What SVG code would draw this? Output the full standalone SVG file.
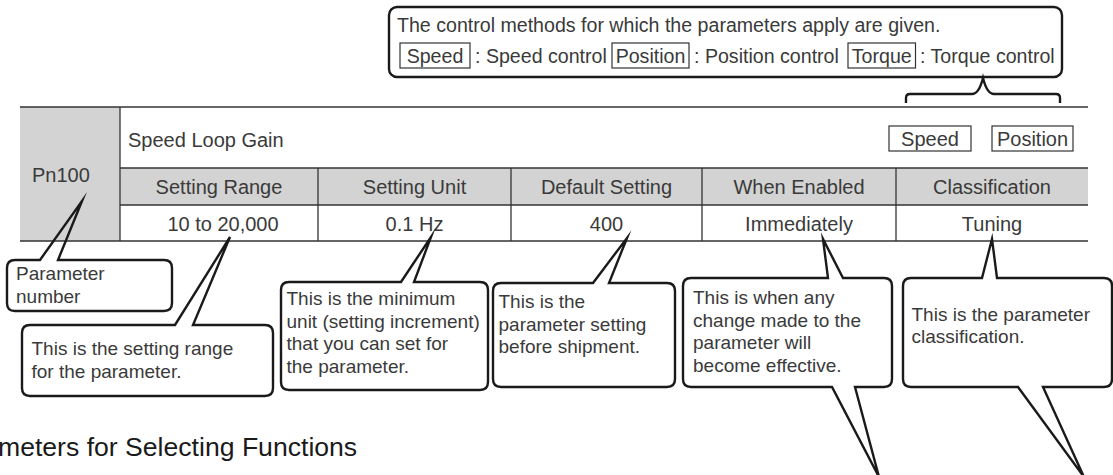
<svg xmlns="http://www.w3.org/2000/svg" width="1113" height="475" viewBox="0 0 1113 475">
<style>
  .t { font-family: "Liberation Sans", Arial, sans-serif; fill: #3a3a3a; }
  .tb { font-size: 20px; }
  .tc { font-size: 19px; }
  .mid { text-anchor: middle; }
  .grid { stroke: #333; stroke-width: 1.3; fill: none; }
  .call { stroke: #1a1a1a; stroke-width: 2.4; fill: none; stroke-linejoin: miter; stroke-miterlimit: 10; }
  .tag { stroke: #333; stroke-width: 1.2; fill: none; }
</style>
<rect x="0" y="0" width="1113" height="475" fill="#ffffff"/>

<g id="table">
  <rect x="20" y="107" width="100" height="134" fill="#d3d3d3"/>
  <rect x="120" y="168" width="968" height="37" fill="#d3d3d3"/>
  <line class="grid" x1="20" y1="107" x2="1088" y2="107"/>
  <line class="grid" x1="120" y1="168" x2="1088" y2="168"/>
  <line class="grid" x1="120" y1="205" x2="1088" y2="205"/>
  <line class="grid" x1="20" y1="241" x2="1088" y2="241"/>
  <line class="grid" x1="120" y1="107" x2="120" y2="241"/>
  <line class="grid" x1="318" y1="168" x2="318" y2="241"/>
  <line class="grid" x1="511" y1="168" x2="511" y2="241"/>
  <line class="grid" x1="702" y1="168" x2="702" y2="241"/>
  <line class="grid" x1="896" y1="168" x2="896" y2="241"/>
  <text class="t tb" x="32" y="182">Pn100</text>
  <text class="t tb" x="128" y="147">Speed Loop Gain</text>
  <rect class="tag" x="889" y="126" width="82" height="25"/>
  <text class="t tb mid" x="930" y="146">Speed</text>
  <rect class="tag" x="992" y="126" width="81" height="25"/>
  <text class="t tb mid" x="1032.5" y="146">Position</text>
  <text class="t tb mid" x="219" y="194">Setting Range</text>
  <text class="t tb mid" x="414.5" y="194">Setting Unit</text>
  <text class="t tb mid" x="606.5" y="194">Default Setting</text>
  <text class="t tb mid" x="799" y="194">When Enabled</text>
  <text class="t tb mid" x="992" y="194">Classification</text>
  <text class="t tb mid" x="223" y="230.5">10 to 20,000</text>
  <text class="t tb mid" x="414.5" y="230.5">0.1 Hz</text>
  <text class="t tb mid" x="606.5" y="230.5">400</text>
  <text class="t tb mid" x="799" y="230.5">Immediately</text>
  <text class="t tb mid" x="992" y="230.5">Tuning</text>
</g>

<g id="control-callout">
  <rect class="call" x="389" y="7" width="673" height="70" rx="8" ry="8"/>
  <text class="t" style="font-size:19.6px" x="397" y="32">The control methods for which the parameters apply are given.</text>
  <rect class="tag" x="400" y="43" width="70" height="25"/>
  <text class="t mid" style="font-size:19.6px" x="435" y="63">Speed</text>
  <text class="t" style="font-size:19.6px" x="475" y="63">: Speed control</text>
  <rect class="tag" x="612" y="43" width="77" height="25"/>
  <text class="t mid" style="font-size:19.6px" x="650.5" y="63">Position</text>
  <text class="t" style="font-size:19.6px" x="694" y="63">: Position control</text>
  <rect class="tag" x="848" y="43" width="67.5" height="25"/>
  <text class="t mid" style="font-size:19.6px" x="881.75" y="63">Torque</text>
  <text class="t" style="font-size:19.6px" x="920" y="63">: Torque control</text>
</g>

<g id="connectors">
  <path class="call" d="M906,103 L906,98 Q906,94 910,94 L972,94 Q979,94 983,78 Q987,94 994,94 L1056,94 Q1060,94 1060,98 L1060,103"/>
</g>

<g id="callout-parameter-number">
  <path class="call" d="M15,260 L40,260 L82,201 L58,260 L164,260 Q172,260 172,268 L172,303 Q172,311 164,311 L15,311 Q7,311 7,303 L7,268 Q7,260 15,260 Z"/>
  <text class="t tc" x="16" y="280">Parameter</text>
  <text class="t tc" x="16" y="302.5">number</text>
</g>

<g id="callout-setting-range">
  <path class="call" d="M30,325 L175,325 L230,237 L193,325 L265,325 Q273,325 273,333 L273,388 Q273,396 265,396 L30,396 Q22,396 22,388 L22,333 Q22,325 30,325 Z"/>
  <text class="t tc" x="31.5" y="355">This is the setting range</text>
  <text class="t tc" x="31.5" y="378">for the parameter.</text>
</g>

<g id="callout-setting-unit">
  <path class="call" d="M289,282 L401,282 L431,237 L414,282 L480,282 Q488,282 488,290 L488,382 Q488,390 480,390 L289,390 Q281,390 281,382 L281,290 Q281,282 289,282 Z"/>
  <text class="t tc" x="286.5" y="305">This is the minimum</text>
  <text class="t tc" x="286.5" y="327.5">unit (setting increment)</text>
  <text class="t tc" x="286.5" y="350">that you can set for</text>
  <text class="t tc" x="286.5" y="372.5">the parameter.</text>
</g>

<g id="callout-default-setting">
  <path class="call" d="M501,283 L593,283 L627,238 L609,283 L667,283 Q675,283 675,291 L675,379 Q675,387 667,387 L501,387 Q493,387 493,379 L493,291 Q493,283 501,283 Z"/>
  <text class="t tc" x="498.5" y="308">This is the</text>
  <text class="t tc" x="498.5" y="330.5">parameter setting</text>
  <text class="t tc" x="498.5" y="353">before shipment.</text>
</g>

<g id="callout-when-enabled">
  <path class="call" d="M691,278 L828,278 L823,239 L843,278 L884,278 Q892,278 892,286 L892,379 Q892,387 884,387 L855,387 L879,477 L832,387 L691,387 Q683,387 683,379 L683,286 Q683,278 691,278 Z"/>
  <text class="t tc" x="693" y="303.5">This is when any</text>
  <text class="t tc" x="693" y="326.5">change made to the</text>
  <text class="t tc" x="693" y="349">parameter will</text>
  <text class="t tc" x="693" y="372">become effective.</text>
</g>

<g id="callout-classification">
  <path class="call" d="M911,278 L982,278 L992,239 L997,278 L1104,278 Q1112,278 1112,286 L1112,379 Q1112,387 1104,387 L1043,387 L1084,477 L1018,387 L911,387 Q903,387 903,379 L903,286 Q903,278 911,278 Z"/>
  <text class="t tc" x="911.5" y="320.5">This is the parameter</text>
  <text class="t tc" x="911.5" y="343">classification.</text>
</g>

<text x="-2" y="456" style="font-family:'Liberation Sans', Arial, sans-serif; font-size:26.6px; fill:#1a1a1a">meters for Selecting Functions</text>
</svg>
